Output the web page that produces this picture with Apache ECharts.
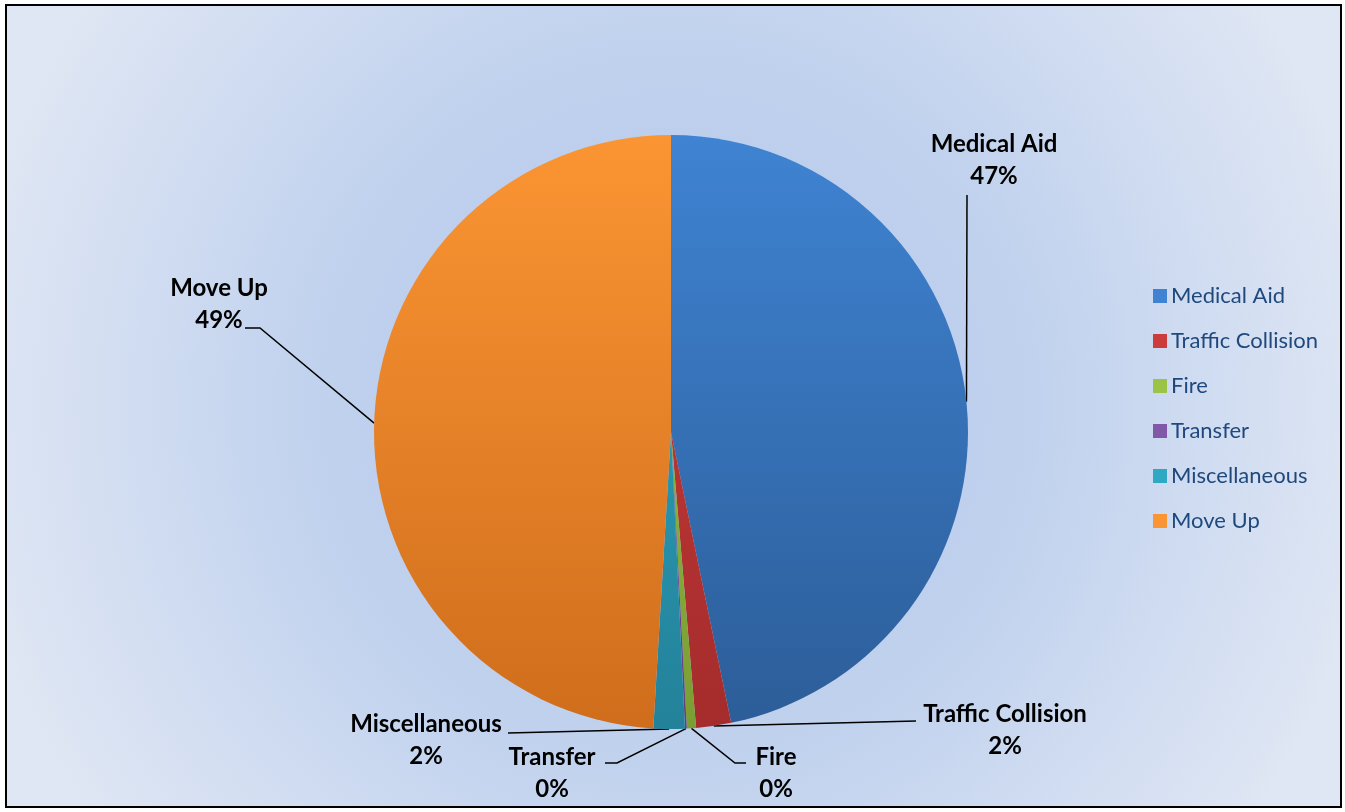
<!DOCTYPE html>
<html><head><meta charset="utf-8">
<script src="https://cdn.jsdelivr.net/npm/echarts@6/dist/echarts.min.js"></script>
<style>html,body{margin:0;padding:0;background:#fff}#c{width:1345px;height:812px}</style>
</head><body><div id="c"></div>
<script>
const categories = ['Medical Aid','Traffic Collision','Fire','Transfer','Miscellaneous','Move Up'];
const values = [468, 19, 5, 1, 17, 491];
const colorsTop = ['#3f83d2','#cc3c3c','#9bc447','#8259a8','#2fa9c3','#fb9533'];
const colorsBottom = ['#2c5d98','#a52c2c','#7a9e33','#62407f','#23829a','#cf6d1c'];

// label placement (label block centre, elbow point, line end)
const labelPos = [
  {x: 994, y: 160, pts: [[967,195],[967,195]]},
  {x: 1005, y: 730, pts: [[916,721],[916,721]]},
  {x: 776, y: 773, pts: [[735,763],[746,763]]},
  {x: 552, y: 773, pts: [[617,763],[605,763]]},
  {x: 426, y: 740, pts: [[508,733],[508,733]]},
  {x: 219, y: 304, pts: [[260,328],[245,328]]}
];

const chart = echarts.init(document.getElementById('c'), null, {renderer:'canvas'});
const CY = 432, R = 297;
const data = categories.map((n,i)=>({
  name: n, value: values[i],
  itemStyle: {color: new echarts.graphic.LinearGradient(0, CY-R, 0, CY+R, [
    {offset:0,color:colorsTop[i]},{offset:1,color:colorsBottom[i]}], true)}
}));

chart.setOption({
  backgroundColor: '#fff',
  animation: false,
  graphic: [{
    type: 'rect', z: -10, silent: true,
    shape: {x: 6, y: 5, width: 1335, height: 802},
    style: {
      fill: new echarts.graphic.RadialGradient(0.5, 0.5, 0.9, [
        {offset:0, color:'#b0c6ea'},{offset:0.5, color:'#c1d2ee'},{offset:1, color:'#e0e7f4'}]),
      stroke: '#000', lineWidth: 2
    }
  }],
  legend: {
    orient: 'vertical', left: 1148, top: 280,
    itemWidth: 14, itemHeight: 14, itemGap: 23,
    icon: 'rect',
    data: categories.map((n,i)=>({name:n, itemStyle:{color: colorsTop[i]}})),
    textStyle: {color: '#1f497d', fontSize: 22, lineHeight: 14, fontFamily: 'Lato', padding:[0,0,0,-1]}
  },
  series: [{
    type: 'pie',
    center: [671, CY], radius: R,
    startAngle: 90, clockwise: true,
    avoidLabelOverlap: false,
    percentPrecision: 0,
    emphasis: {disabled: true},
    data: data,
    label: {
      show: true, position: 'outside',
      formatter: '{b}\n{d}%',
      color: '#000', fontWeight: 'bold', fontSize: 24, fontFamily: 'Lato', lineHeight: 32,
      align: 'center'
    },
    labelLine: {show: true, lineStyle: {color: '#000', width: 1.5}},
    labelLayout: function(p){
      const lp = labelPos[p.dataIndex];
      const start = p.labelLinePoints ? p.labelLinePoints[0] : lp.pts[0];
      return {x: lp.x, y: lp.y, align: 'center', verticalAlign: 'middle',
              labelLinePoints: [start, lp.pts[0], lp.pts[1]]};
    }
  }]
});
</script></body></html>
